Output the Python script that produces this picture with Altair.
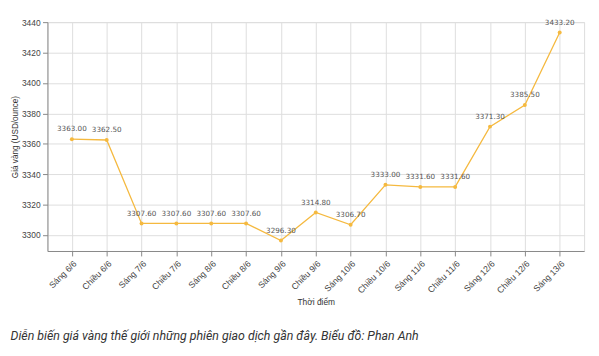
import altair as alt
import pandas as pd

times = ["Sáng 6/6", "Chiều 6/6", "Sáng 7/6", "Chiều 7/6", "Sáng 8/6", "Chiều 8/6",
         "Sáng 9/6", "Chiều 9/6", "Sáng 10/6", "Chiều 10/6", "Sáng 11/6", "Chiều 11/6",
         "Sáng 12/6", "Chiều 12/6", "Sáng 13/6"]
prices = [3363.00, 3362.50, 3307.60, 3307.60, 3307.60, 3307.60,
          3296.30, 3314.80, 3306.70, 3333.00, 3331.60, 3331.60,
          3371.30, 3385.50, 3433.20]
y_ticks = [3300, 3320, 3340, 3360, 3380, 3400, 3420, 3440]

df = pd.DataFrame({"t": times, "v": prices, "lbl": [f"{p:.2f}" for p in prices]})

COLOR = "#f5b93f"
FONT = "DejaVu Sans"

x = alt.X("t:N", sort=times,
          scale=alt.Scale(type="point", padding=0.7),
          axis=alt.Axis(title="Thời điểm", labelAngle=-45, labelAlign="right",
                        labelBaseline="top", labelFontSize=8.8, labelColor="#444",
                        titleFontSize=8.5, titleColor="#333", titleFontWeight="normal",
                        titlePadding=3, labelPadding=3, grid=True))
y = alt.Y("v:Q",
          scale=alt.Scale(domain=[3289.45, 3440.05], nice=False, zero=False),
          axis=alt.Axis(title="Giá vàng (USD/ounce)", values=y_ticks, format="d",
                        labelFontSize=8.5, labelColor="#444", titleFontSize=8.3,
                        titleColor="#333", titleFontWeight="normal", titlePadding=2,
                        labelPadding=2.5))

base = alt.Chart(df).encode(x=x, y=y)
line = base.mark_line(color=COLOR, strokeWidth=1.3)
pts = base.mark_point(color=COLOR, filled=True, size=16, opacity=1)
txt = base.mark_text(dy=-10, fontSize=7.3, color="#555", font=FONT).encode(text="lbl:N")

chart = (line + pts + txt).properties(
    width=544, height=232,
    autosize=alt.AutoSizeParams(type="none"),
    padding={"left": 40, "top": 12, "right": 7, "bottom": 96},
    title=alt.TitleParams(
        "Diễn biến giá vàng thế giới những phiên giao dịch gần đây. Biểu đồ: Phan Anh",
        orient="bottom", anchor="start", frame="bounds", fontSize=12.5,
        fontStyle="italic", fontWeight="normal", color="#333", font="Roboto", offset=24),
).configure_axis(
    labelFont=FONT, titleFont=FONT, gridColor="#ebebeb", gridWidth=0.8,
    domainColor="#555", domainWidth=1, tickColor="#555", tickSize=3.5,
).configure_view(stroke=None).configure(background="white")

chart.save("out.html", embed_options={"renderer": "svg", "actions": False})
